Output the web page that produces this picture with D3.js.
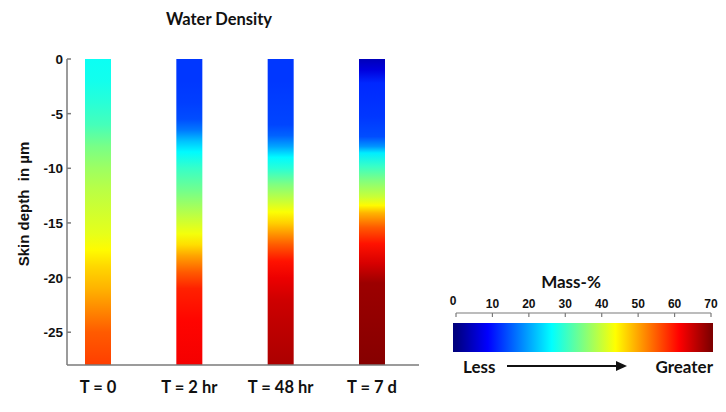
<!DOCTYPE html>
<html>
  <head>
    <script src="https://d3js.org/d3.v7.min.js"></script>
    <style>
      body { margin: 0; background: #fff; }
      text { font-weight: bold; fill: #111; }
    </style>
  </head>
  <body>
    <div id="chart">
      <svg width="726" height="412"></svg>
    </div>

    <script>
      // categories and depth profiles (skin depth in um, mass-% of water)
      const categories = ['T = 0', 'T = 2 hr', 'T = 48 hr', 'T = 7 d'];

      const depthT0 = [0, -2, -4, -6, -8, -10, -12, -14, -16, -17.5, -19, -21, -23, -25, -28];
      const massT0  = [27, 27.5, 29, 31, 34.5, 37, 39, 40.5, 42, 44, 46.5, 49, 52, 55, 57];

      const depthT2h = [0, -2, -4, -5.5, -6.5, -7.5, -8.5, -10, -12, -14, -16, -17, -18, -19.5, -21, -24, -28];
      const massT2h  = [12.5, 12.5, 13, 14, 17, 22, 26, 30, 34, 38.5, 43, 46, 50, 55, 59, 61, 62];

      const depthT48h = [0, -2, -4, -6, -7, -8, -9, -10, -11.5, -13, -14, -15, -16, -17, -18.5, -20, -22, -24, -28];
      const massT48h  = [12.5, 12.5, 13, 13.5, 15.5, 20, 26, 29, 35, 40, 43.5, 47, 51, 55, 60, 62.5, 64.5, 65.5, 67];

      const depthT7d = [0, -1, -2.2, -5.3, -7.1, -8, -8.6, -9.8, -11.1, -12.6, -13.4, -14.1, -15.4, -16.9, -18.7, -20.5, -28];
      const massT7d  = [4, 6.5, 11.5, 12.5, 14, 19, 25, 30, 35, 40, 44, 49, 55, 60, 64, 68, 69.5];

      const depthTicks = [0, -5, -10, -15, -20, -25];
      const massTicks = [0, 10, 20, 30, 40, 50, 60, 70];

      const profiles = [
        { name: categories[0], depth: depthT0, mass: massT0 },
        { name: categories[1], depth: depthT2h, mass: massT2h },
        { name: categories[2], depth: depthT48h, mass: massT48h },
        { name: categories[3], depth: depthT7d, mass: massT7d }
      ];

      const svg = d3.select('#chart').select('svg');
      const defs = svg.append('defs');

      // jet colour map over 0..70 mass-%
      const jet = d3.scaleLinear()
        .domain([0, 0.125, 0.375, 0.625, 0.875, 1].map(t => t * 70))
        .range(['#00007f', '#0000ff', '#00ffff', '#ffff00', '#ff0000', '#7f0000'])
        .clamp(true);

      const y = d3.scaleLinear().domain([-28, 0]).range([365, 59]);
      const x = d3.scalePoint().domain(categories).range([98, 372]);
      const barW = 26;
      const axisColor = '#7a7a7a';

      // bars, each filled by a vertical gradient built from its profile
      profiles.forEach((p, i) => {
        const grad = defs.append('linearGradient')
          .attr('id', 'grad' + i)
          .attr('gradientUnits', 'userSpaceOnUse')
          .attr('x1', 0).attr('x2', 0)
          .attr('y1', y(0)).attr('y2', y(-28));
        grad.selectAll('stop')
          .data(p.depth.map((d, k) => ({ d, m: p.mass[k] })))
          .join('stop')
          .attr('offset', s => (y(s.d) - y(0)) / (y(-28) - y(0)))
          .attr('stop-color', s => jet(s.m));

        svg.append('rect')
          .attr('x', x(p.name) - barW / 2)
          .attr('y', y(0))
          .attr('width', barW)
          .attr('height', y(-28) - y(0))
          .attr('fill', 'url(#grad' + i + ')');
      });

      // y axis
      svg.append('line')
        .attr('x1', 67).attr('x2', 67)
        .attr('y1', y(0)).attr('y2', y(-28))
        .attr('stroke', axisColor).attr('stroke-width', 1.5);
      svg.selectAll('.ytick')
        .data(depthTicks)
        .join('line')
        .attr('x1', 67).attr('x2', 71)
        .attr('y1', d => y(d)).attr('y2', d => y(d))
        .attr('stroke', axisColor).attr('stroke-width', 1.5);
      svg.selectAll('.ylab')
        .data(depthTicks)
        .join('text')
        .attr('x', 63)
        .attr('y', d => y(d) + 5)
        .attr('text-anchor', 'end')
        .style('font-family', 'Liberation Sans, Arial, sans-serif')
        .style('font-size', '13.5px')
        .text(d => d);

      svg.append('text')
        .attr('transform', 'translate(29,204) rotate(-90)')
        .attr('text-anchor', 'middle')
        .attr('xml:space', 'preserve')
        .style('font-family', 'Liberation Sans, Arial, sans-serif')
        .style('font-size', '15px')
        .text('Skin depth  in \u00b5m');

      // x axis
      svg.append('line')
        .attr('x1', 67).attr('x2', 419)
        .attr('y1', y(-28)).attr('y2', y(-28))
        .attr('stroke', axisColor).attr('stroke-width', 1.5);
      svg.selectAll('.xlab')
        .data(categories)
        .join('text')
        .attr('x', d => x(d))
        .attr('y', 393)
        .attr('text-anchor', 'middle')
        .style('font-family', 'Lato, sans-serif')
        .style('font-size', '16.5px')
        .text(d => d);

      svg.append('text')
        .attr('x', 219).attr('y', 25)
        .attr('text-anchor', 'middle')
        .style('font-family', 'Lato, sans-serif')
        .style('font-size', '16.5px')
        .text('Water Density');

      // colour bar legend
      const c = d3.scaleLinear().domain([0, 70]).range([456, 711]);
      const cbGrad = defs.append('linearGradient')
        .attr('id', 'cbGrad')
        .attr('gradientUnits', 'userSpaceOnUse')
        .attr('x1', c(0)).attr('x2', c(70))
        .attr('y1', 0).attr('y2', 0);
      cbGrad.selectAll('stop')
        .data(jet.domain())
        .join('stop')
        .attr('offset', v => v / 70)
        .attr('stop-color', v => jet(v));

      svg.append('rect')
        .attr('x', 453).attr('y', 323)
        .attr('width', 260).attr('height', 29)
        .attr('fill', 'url(#cbGrad)');

      svg.append('line')
        .attr('x1', c(0)).attr('x2', c(70))
        .attr('y1', 313).attr('y2', 313)
        .attr('stroke', axisColor).attr('stroke-width', 1.2);
      svg.selectAll('.ctick')
        .data(massTicks)
        .join('line')
        .attr('x1', d => c(d)).attr('x2', d => c(d))
        .attr('y1', 313).attr('y2', 317)
        .attr('stroke', axisColor).attr('stroke-width', 1.2);
      svg.selectAll('.clab')
        .data(massTicks)
        .join('text')
        .attr('x', d => d === 0 ? c(d) - 3 : c(d))
        .attr('y', d => d === 0 ? 305 : 308)
        .attr('text-anchor', 'middle')
        .style('font-family', 'Liberation Sans, Arial, sans-serif')
        .style('font-size', '12px')
        .text(d => d);

      svg.append('text')
        .attr('x', 571).attr('y', 288)
        .attr('text-anchor', 'middle')
        .style('font-family', 'Lato, sans-serif')
        .style('font-size', '17px')
        .text('Mass-%');

      svg.append('text')
        .attr('x', 463).attr('y', 373)
        .style('font-family', 'Lato, sans-serif')
        .style('font-size', '17px')
        .text('Less');
      svg.append('text')
        .attr('x', 713).attr('y', 373)
        .attr('text-anchor', 'end')
        .style('font-family', 'Lato, sans-serif')
        .style('font-size', '17px')
        .text('Greater');

      // arrow
      svg.append('line')
        .attr('x1', 507).attr('x2', 618)
        .attr('y1', 366).attr('y2', 366)
        .attr('stroke', '#111').attr('stroke-width', 2);
      svg.append('path')
        .attr('d', 'M616,361 L627,366 L616,371 Z')
        .attr('fill', '#111');
    </script>
  </body>
</html>
